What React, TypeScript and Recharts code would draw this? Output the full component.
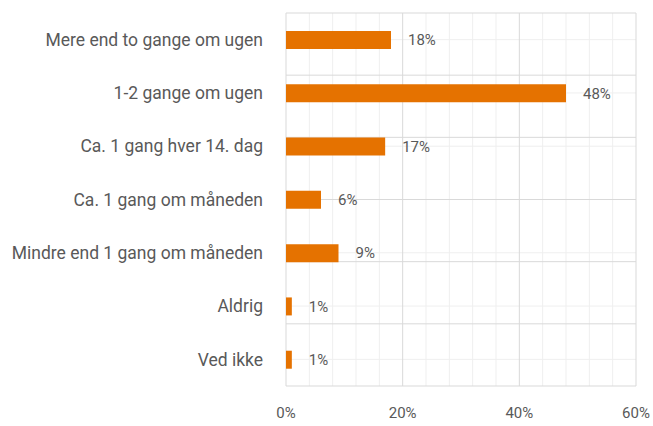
import { BarChart, Bar, XAxis, YAxis, LabelList, ReferenceLine } from 'recharts';

const categories = [
  'Mere end to gange om ugen',
  '1-2 gange om ugen',
  'Ca. 1 gang hver 14. dag',
  'Ca. 1 gang om måneden',
  'Mindre end 1 gang om måneden',
  'Aldrig',
  'Ved ikke',
];
const shares = [18, 48, 17, 6, 9, 1, 1];
const majorTicks = [0, 20, 40, 60];
const minorTicks = [4, 8, 12, 16, 24, 28, 32, 36, 44, 48, 52, 56];
const bandEdges = [0, 1, 2, 3, 4, 5, 6, 7];

const data = categories.map((name, i) => ({ name, value: shares[i] }));

const FONT = 'Roboto, sans-serif';
const TEXT = '#595959';
const MINOR = '#efefef';
const MAJOR = '#d9d9d9';
const W = 653;
const H = 426;
const MARGIN = { top: 13, right: 17, left: 0, bottom: 0 };

// shared axes; ticks only shown on the top layer
function axes(showTicks: boolean) {
  return [
    <XAxis
      key="x"
      xAxisId="main"
      type="number"
      domain={[0, 60]}
      ticks={majorTicks}
      tickFormatter={(v) => `${v}%`}
      axisLine={false}
      tickLine={false}
      tickMargin={15}
      height={40}
      tick={showTicks ? { fill: TEXT, fontSize: 15, fontFamily: FONT } : false}
    />,
    <YAxis
      key="y"
      yAxisId="cat"
      type="category"
      dataKey="name"
      width={286}
      axisLine={false}
      tickLine={false}
      tickMargin={17}
      interval={0}
      tick={showTicks ? { fill: TEXT, fontSize: 17.5, fontFamily: FONT } : false}
    />,
    <YAxis key="e" yAxisId="edges" type="number" domain={[0, 7]} ticks={bandEdges} hide />,
  ];
}

export default function App() {
  return (
    <div style={{ position: 'absolute', left: 0, top: 0, width: W, height: H, fontFamily: FONT }}>
      {/* grid layer */}
      <div style={{ position: 'absolute', left: 0, top: 0 }}>
        <BarChart width={W} height={H} data={data} layout="vertical" margin={MARGIN}>
          {axes(false)}
          <Bar xAxisId="main" yAxisId="cat" dataKey="value" fill="none" barSize={18} isAnimationActive={false} />
          {minorTicks.map((t) => (
            <ReferenceLine key={`mx${t}`} xAxisId="main" yAxisId="cat" x={t} stroke={MINOR} />
          ))}
          {categories.map((c) => (
            <ReferenceLine key={`my${c}`} xAxisId="main" yAxisId="cat" y={c} stroke={MINOR} />
          ))}
          {majorTicks.map((t) => (
            <ReferenceLine key={`Mx${t}`} xAxisId="main" yAxisId="cat" x={t} stroke={MAJOR} />
          ))}
          {bandEdges.map((e) => (
            <ReferenceLine key={`My${e}`} xAxisId="main" yAxisId="edges" y={e} stroke={MAJOR} />
          ))}
        </BarChart>
      </div>
      {/* bars + labels */}
      <div style={{ position: 'absolute', left: 0, top: 0 }}>
        <BarChart width={W} height={H} data={data} layout="vertical" margin={MARGIN}>
          {axes(true)}
          <Bar
            xAxisId="main"
            yAxisId="cat"
            dataKey="value"
            fill="#E57200"
            barSize={18}
            isAnimationActive={false}
          >
            <LabelList
              dataKey="value"
              position="right"
              offset={17}
              formatter={(v: number) => `${v}%`}
              fill={TEXT}
              fontSize={15}
              fontFamily={FONT}
            />
          </Bar>
        </BarChart>
      </div>
    </div>
  );
}
